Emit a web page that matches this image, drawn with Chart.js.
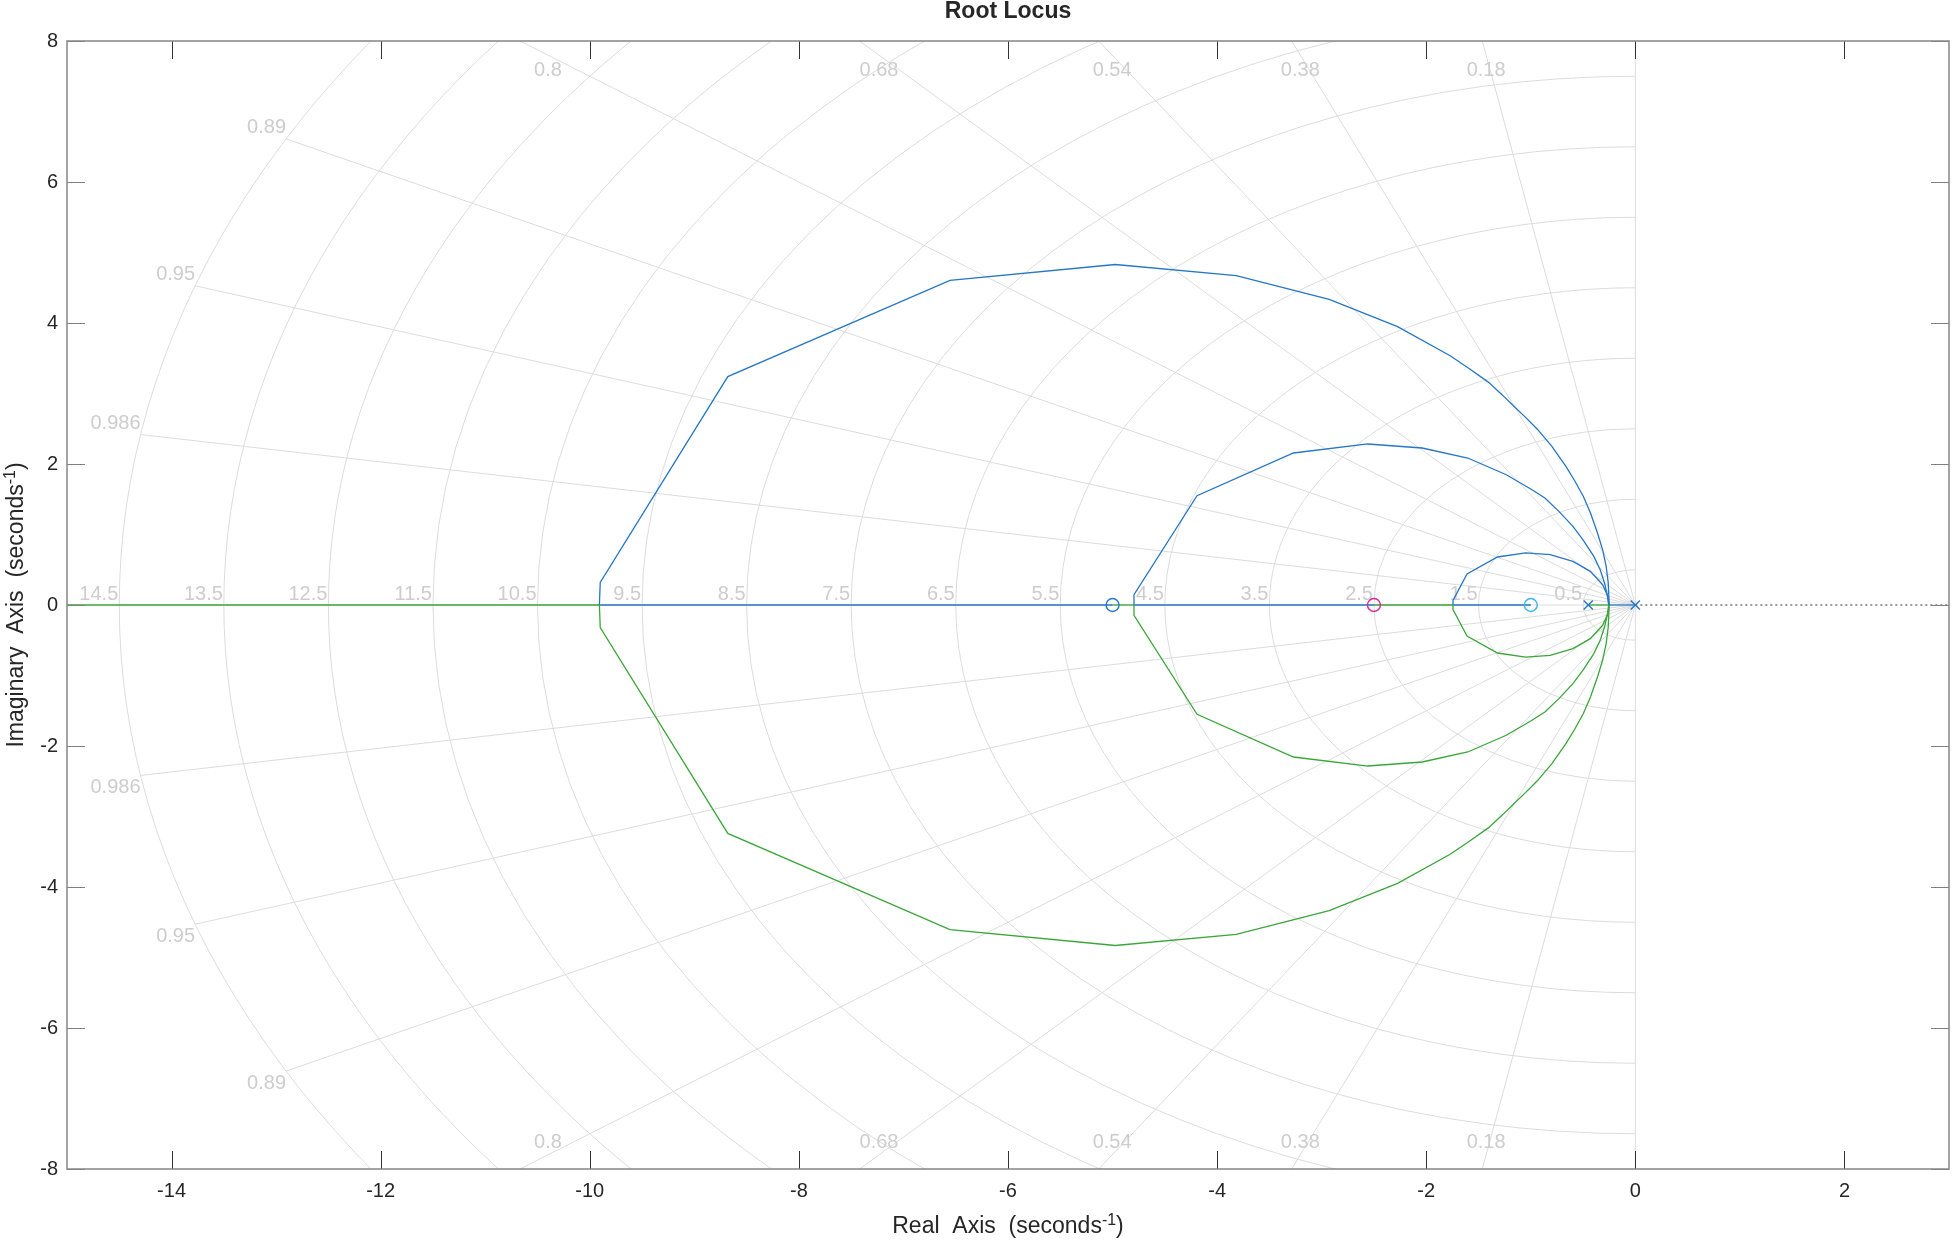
<!DOCTYPE html>
<html lang="en">
<head>
<meta charset="UTF-8">
<title>Root Locus</title>
<script src="https://cdn.jsdelivr.net/npm/chart.js"></script>
<style>
  html, body { margin: 0; padding: 0; background: #fff; }
  #wrap { width: 1952px; height: 1240px; }
</style>
</head>
<body>
<div id="wrap"><canvas id="rlocus" width="1952" height="1240"></canvas></div>
<script>
// axis limits / ticks
const xLimits = [-15, 3];
const yLimits = [-8, 8];
const xTickValues = [-14, -12, -10, -8, -6, -4, -2, 0, 2];
const yTickValues = [-8, -6, -4, -2, 0, 2, 4, 6, 8];

// sgrid: damping ratios and natural frequencies
const dampingRatios = [0.18, 0.38, 0.54, 0.68, 0.8, 0.89, 0.95, 0.986];
const naturalFreqs = [0.5, 1.5, 2.5, 3.5, 4.5, 5.5, 6.5, 7.5, 8.5, 9.5, 10.5, 11.5, 12.5, 13.5, 14.5];

// upper half of each complex loop (lower half is its conjugate)
const outerRe = [-9.908, -9.900, -8.680, -6.555, -4.974, -3.817, -2.928, -2.274, -1.771, -1.587, -1.403, -1.268, -1.167, -1.050, -0.933, -0.798, -0.664, -0.580, -0.497, -0.429, -0.362, -0.313, -0.279, -0.259, -0.250];
const outerIm = [0, 0.32, 3.24, 4.605, 4.83, 4.672, 4.336, 3.948, 3.536, 3.352, 3.158, 2.973, 2.827, 2.661, 2.487, 2.250, 1.966, 1.763, 1.540, 1.305, 1.021, 0.784, 0.548, 0.312, 0];
const middleRe = [-4.795, -4.795, -4.192, -3.270, -2.559, -2.039, -1.603, -1.234, -1.000, -0.865, -0.731, -0.597, -0.497, -0.397, -0.336, -0.295, -0.269, -0.255];
const middleIm = [0, 0.146, 1.550, 2.156, 2.284, 2.227, 2.085, 1.848, 1.645, 1.518, 1.328, 1.115, 0.916, 0.689, 0.501, 0.312, 0.146, 0];
const innerRe = [-1.744, -1.744, -1.610, -1.318, -1.050, -0.815, -0.597, -0.430, -0.313, -0.262, -0.250];
const innerIm = [0, 0.065, 0.440, 0.681, 0.738, 0.714, 0.619, 0.477, 0.288, 0.122, 0];

// real-axis pieces of the locus, per branch
const realAxisBlue = [[-9.908, -5], [-4.795, -2.5], [-1.744, -1], [-0.250, 0]];
const realAxisGreen = [[-15, -9.908], [-5, -4.795], [-2.5, -1.744], [-0.45, -0.250]];
const realAxisDotted = [0, 3];

// open-loop poles and zeros
const polesRe = [0, -0.45];
const zerosRe = [-5, -2.5, -1];

const BLUE = '#2677c4', GREEN = '#3aa63a';
const zeroColors = ['#2677c4', '#d6289a', '#3cb6e8'];
const GRID = '#dcdcdc', GRID_TEXT = '#cdcdcd', TEXT = '#262626';
const FONT = '"Liberation Sans", Arial, Helvetica, sans-serif';

function pts(re, im, sign) {
  return re.map((v, i) => ({ x: v, y: sign * im[i] }));
}
function lineSet(data, color, extra) {
  return Object.assign({ data, borderColor: color, borderWidth: 1.3, showLine: true,
    pointRadius: 0, fill: false, tension: 0 }, extra || {});
}

const datasets = [];
// markers first so they are drawn on top
zerosRe.forEach((z, i) => datasets.push({
  data: [{ x: z, y: 0 }], showLine: false, pointStyle: 'circle', pointRadius: 6.5,
  borderColor: zeroColors[i], backgroundColor: 'rgba(0,0,0,0)', pointBorderWidth: 1.4
}));
datasets.push({
  data: polesRe.map(p => ({ x: p, y: 0 })), showLine: false, pointStyle: 'crossRot',
  pointRadius: 6.5, borderColor: BLUE, pointBorderWidth: 1.4
});
[[outerRe, outerIm], [middleRe, middleIm], [innerRe, innerIm]].forEach(([re, im]) => {
  datasets.push(lineSet(pts(re, im, 1), BLUE));
  datasets.push(lineSet(pts(re, im, -1), GREEN));
});
realAxisBlue.forEach(s => datasets.push(lineSet([{ x: s[0], y: 0 }, { x: s[1], y: 0 }], BLUE)));
realAxisGreen.forEach(s => datasets.push(lineSet([{ x: s[0], y: 0 }, { x: s[1], y: 0 }], GREEN)));
datasets.push(lineSet([{ x: realAxisDotted[0], y: 0 }, { x: realAxisDotted[1], y: 0 }], '#333',
  { borderDash: [2, 3], borderWidth: 1 }));

// s-plane grid drawn under the locus
const sgridPlugin = {
  id: 'sgrid',
  beforeDatasetsDraw(chart) {
    const { ctx, chartArea: a, scales: { x, y } } = chart;
    const ox = x.getPixelForValue(0), oy = y.getPixelForValue(0);
    const kx = x.getPixelForValue(1) - ox, ky = oy - y.getPixelForValue(1);
    const wMax = Math.max(...naturalFreqs);
    ctx.save();
    ctx.beginPath();
    ctx.rect(a.left, a.top, a.right - a.left, a.bottom - a.top);
    ctx.clip();
    ctx.strokeStyle = GRID;
    ctx.lineWidth = 1;
    naturalFreqs.forEach(w => {
      ctx.beginPath();
      ctx.ellipse(ox, oy, w * kx, w * ky, 0, Math.PI / 2, Math.PI * 1.5);
      ctx.stroke();
    });
    dampingRatios.forEach(z => {
      const s = Math.sqrt(1 - z * z);
      [1, -1].forEach(sg => {
        ctx.beginPath();
        ctx.moveTo(ox, oy);
        ctx.lineTo(x.getPixelForValue(-wMax * z), y.getPixelForValue(sg * wMax * s));
        ctx.stroke();
      });
    });
    ctx.beginPath();
    ctx.moveTo(ox, oy); ctx.lineTo(x.getPixelForValue(-wMax), oy);
    ctx.moveTo(ox, a.top); ctx.lineTo(ox, a.bottom);
    ctx.stroke();

    // labels
    ctx.fillStyle = GRID_TEXT;
    ctx.font = '20px ' + FONT;
    ctx.textAlign = 'right';
    ctx.textBaseline = 'alphabetic';
    naturalFreqs.forEach(w => ctx.fillText(String(w), x.getPixelForValue(-w) - 1, oy - 5));
    const yTop = yLimits[1];
    dampingRatios.forEach(z => {
      const s = Math.sqrt(1 - z * z);
      const im = wMax * s;
      if (im <= yTop) {
        const px = x.getPixelForValue(-wMax * z);
        ctx.textAlign = 'right';
        ctx.textBaseline = 'bottom';
        ctx.fillText(String(z), px, y.getPixelForValue(im) - 1);
        ctx.textBaseline = 'top';
        ctx.fillText(String(z), px, y.getPixelForValue(-im) + 2);
      } else {
        const px = x.getPixelForValue(-(yTop - 0.2) * z / s);
        ctx.textAlign = 'center';
        ctx.textBaseline = 'middle';
        ctx.fillText(String(z), px, a.top + 29);
        ctx.fillText(String(z), px, a.bottom - 27);
      }
    });
    ctx.restore();
  }
};

function drawSupLabel(ctx, main, sup, tail, cx, baseY) {
  const big = '23px ' + FONT, small = '16px ' + FONT;
  ctx.font = big; const w1 = ctx.measureText(main).width, w3 = ctx.measureText(tail).width;
  ctx.font = small; const w2 = ctx.measureText(sup).width;
  let xx = cx - (w1 + w2 + w3) / 2;
  ctx.textAlign = 'left';
  ctx.textBaseline = 'alphabetic';
  ctx.font = big; ctx.fillText(main, xx, baseY); xx += w1;
  ctx.font = small; ctx.fillText(sup, xx, baseY - 8); xx += w2;
  ctx.font = big; ctx.fillText(tail, xx, baseY);
}

// box, inward ticks and titles
const framePlugin = {
  id: 'frame',
  afterDatasetsDraw(chart) {
    const { ctx, chartArea: a, scales: { x, y } } = chart;
    ctx.save();
    ctx.lineWidth = 1;
    ctx.strokeStyle = '#333';
    ctx.beginPath();
    xTickValues.forEach(v => {
      const px = Math.round(x.getPixelForValue(v)) + 0.5;
      ctx.moveTo(px, a.bottom); ctx.lineTo(px, a.bottom - 18);
      ctx.moveTo(px, a.top); ctx.lineTo(px, a.top + 18);
    });
    ctx.stroke();
    ctx.strokeStyle = '#808080';
    ctx.beginPath();
    yTickValues.forEach(v => {
      const py = Math.round(y.getPixelForValue(v)) + 0.5;
      ctx.moveTo(a.left, py); ctx.lineTo(a.left + 18, py);
      ctx.moveTo(a.right, py); ctx.lineTo(a.right - 18, py);
    });
    ctx.stroke();
    ctx.lineWidth = 1.5;
    ctx.strokeStyle = '#858585';
    ctx.strokeRect(a.left, a.top, a.right - a.left, a.bottom - a.top);
    ctx.restore();
  },
  afterDraw(chart) {
    const { ctx, chartArea: a } = chart;
    const cx = (a.left + a.right) / 2, cy = (a.top + a.bottom) / 2;
    ctx.save();
    ctx.fillStyle = TEXT;
    ctx.font = 'bold 23px ' + FONT;
    ctx.textAlign = 'center';
    ctx.textBaseline = 'alphabetic';
    ctx.fillText('Root Locus', cx, 18);
    drawSupLabel(ctx, 'Real  Axis  (seconds', '-1', ')', cx, 1233);
    ctx.translate(23, cy);
    ctx.rotate(-Math.PI / 2);
    drawSupLabel(ctx, 'Imaginary  Axis  (seconds', '-1', ')', 0, 0);
    ctx.restore();
  }
};

new Chart(document.getElementById('rlocus'), {
  type: 'scatter',
  data: { datasets },
  options: {
    responsive: false,
    animation: false,
    layout: { autoPadding: false, padding: { top: 41, right: 3, left: 0, bottom: 0 } },
    plugins: { legend: { display: false }, tooltip: { enabled: false }, title: { display: false } },
    scales: {
      x: {
        type: 'linear', min: xLimits[0], max: xLimits[1],
        grid: { display: false, drawTicks: false }, border: { display: false },
        afterBuildTicks: s => { s.ticks = xTickValues.map(v => ({ value: v })); },
        afterFit: s => { s.height = 71; s.paddingLeft = 0; s.paddingRight = 0; },
        ticks: { color: TEXT, padding: 10, maxRotation: 0, font: { size: 20, family: FONT } }
      },
      y: {
        type: 'linear', min: yLimits[0], max: yLimits[1],
        grid: { display: false, drawTicks: false }, border: { display: false },
        afterBuildTicks: s => { s.ticks = yTickValues.map(v => ({ value: v })); },
        afterFit: s => { s.width = 67; s.paddingTop = 0; s.paddingBottom = 0; },
        ticks: { color: TEXT, padding: 9, font: { size: 20, family: FONT } }
      }
    }
  },
  plugins: [sgridPlugin, framePlugin]
});
</script>
</body>
</html>
